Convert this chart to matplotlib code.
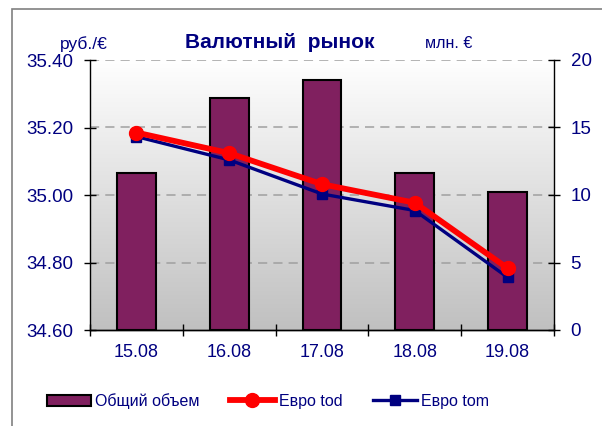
import numpy as np
import matplotlib
matplotlib.use("Agg")
import matplotlib.pyplot as plt
from matplotlib.patches import Rectangle
from matplotlib.lines import Line2D

plt.rcParams['font.family'] = ['Liberation Sans', 'DejaVu Sans']

categories = ["15.08", "16.08", "17.08", "18.08", "19.08"]
volume = [11.6, 17.2, 18.5, 11.6, 10.2]
euro_tod = [35.185, 35.124, 35.032, 34.977, 34.783]
euro_tom = [35.173, 35.104, 35.003, 34.954, 34.756]
left_ticks = [34.60, 34.80, 35.00, 35.20, 35.40]
right_ticks = [0, 5, 10, 15, 20]

navy = "#000080"
W, H = 602, 426
fig = plt.figure(figsize=(W / 100, H / 100), dpi=100)

# outer frame
fig.add_artist(Rectangle((12 / W, -0.1), 1.2, 1 - 9 / H + 0.1, transform=fig.transFigure,
                         fill=False, edgecolor="#808080", lw=1.2))

x0, x1, y0, y1 = 90, 554, 60, 330
ax = fig.add_axes([x0 / W, 1 - y1 / H, (x1 - x0) / W, (y1 - y0) / H])
ax2 = ax.twinx()
ax.set_zorder(ax2.get_zorder() + 1)
ax.patch.set_visible(False)

x = np.arange(len(categories))

# gradient background on bar axis
grad = np.linspace(1.0, 0.0, 256).reshape(-1, 1)
ax2.imshow(grad, extent=[-0.5, 4.5, 0, 20], aspect='auto',
           cmap=matplotlib.colors.LinearSegmentedColormap.from_list("g", ["#c0c0c0", "#ffffff"]),
           vmin=0, vmax=1, zorder=0, origin='upper')
ax2.bar(x, volume, width=0.42, color="#80205f", edgecolor="black", lw=1.5, zorder=3)
for t in right_ticks[1:]:
    ax2.axhline(t, color="#a0a0a0", lw=1.1, ls=(0, (6, 4)), zorder=1)
ax2.set_ylim(0, 20)
ax2.set_yticks(right_ticks)
ax2.set_xlim(-0.5, 4.5)

ax.plot(x, euro_tom, color=navy, lw=2.4, marker='s', ms=7, zorder=3)
ax.plot(x, euro_tod, color="red", lw=4.2, marker='o', ms=10, zorder=4)
ax.set_ylim(34.60, 35.40)
ax.set_yticks(left_ticks)
ax.set_yticklabels([f"{v:.2f}" for v in left_ticks])
ax.set_xlim(-0.5, 4.5)
ax.set_xticks(np.arange(-0.5, 5, 1))
ax.set_xticklabels([])
ax.set_xticks(x, minor=True)
ax.set_xticklabels(categories, minor=True)

for a in (ax, ax2):
    a.spines['top'].set_visible(False)
    for s in ('left', 'right', 'bottom'):
        a.spines[s].set_linewidth(1.0)
ax2.spines['left'].set_visible(False)
ax.spines['right'].set_visible(False)

ax.tick_params(axis='y', direction='inout', length=8, width=1, labelsize=13.5, labelcolor=navy, pad=8)
ax2.tick_params(axis='y', direction='inout', length=8, width=1, labelsize=13.5, labelcolor=navy, pad=8)
ax.tick_params(axis='x', which='major', direction='inout', length=8, width=1)
ax.tick_params(axis='x', which='minor', length=0, labelsize=13, labelcolor=navy, pad=10)
ax2.tick_params(axis='x', which='both', bottom=False, labelbottom=False)

fig.text(280 / W, 1 - 43 / H, "Валютный  рынок", fontsize=15, fontweight='bold', color=navy,
         ha='center', va='center')
fig.text(60 / W, 1 - 44 / H, "руб./€", fontsize=12.5, color=navy, ha='left', va='center')
fig.text(425 / W, 1 - 44 / H, "млн. €", fontsize=11.5, color=navy, ha='left', va='center')

handles = [
    Rectangle((0, 0), 1, 1, facecolor="#80205f", edgecolor="black", lw=1.5),
    Line2D([], [], color="red", lw=4.2, marker='o', ms=10),
    Line2D([], [], color=navy, lw=2.4, marker='s', ms=7),
]
leg = fig.legend(handles, ["Общий объем", "Евро tod", "Евро tom"], loc='center',
                 bbox_to_anchor=(268 / W, 1 - 401 / H), ncol=3, frameon=False,
                 fontsize=11.5, handlelength=2.8, handletextpad=0.25, columnspacing=1.9)
for t in leg.get_texts():
    t.set_color(navy)

fig.savefig("out.png", dpi=100)
